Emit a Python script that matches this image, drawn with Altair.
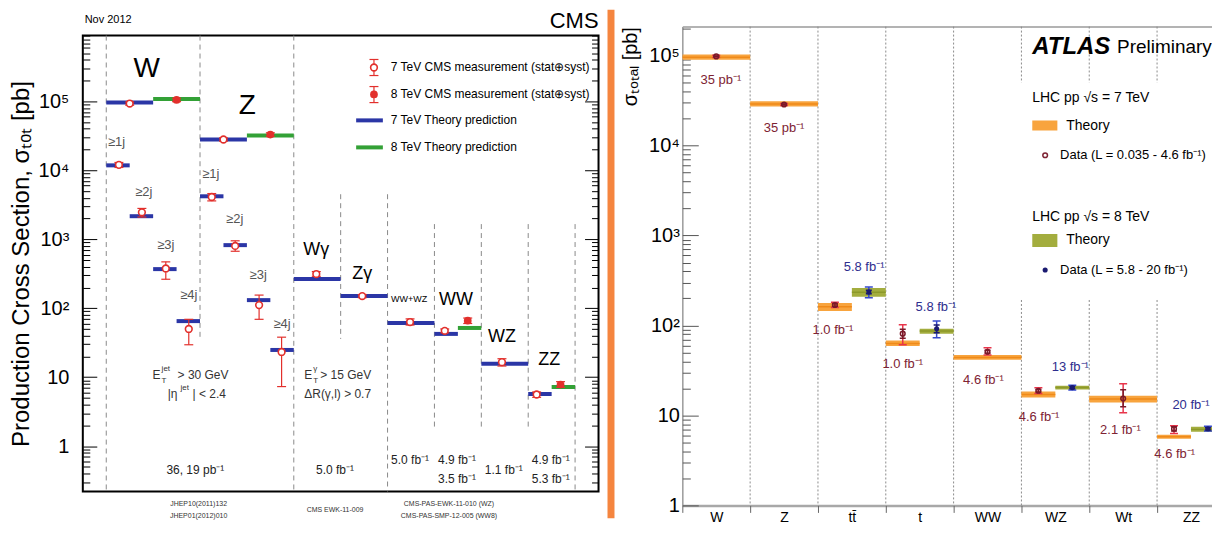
import altair as alt
import pandas as pd

FONT = "Liberation Sans"

# ======================= CMS panel data (left) =======================
cms_th_proc = ["W", "W", "W≥1j", "W≥2j", "W≥3j", "W≥4j", "Z", "Z", "Z≥1j", "Z≥2j", "Z≥3j", "Z≥4j",
               "Wγ", "Zγ", "WW+WZ", "WW", "WW", "WZ", "ZZ", "ZZ"]
cms_th_x0 = [0.5, 1.5, 0.5, 1.0, 1.5, 2.0, 2.5, 3.5, 2.5, 3.0, 3.5, 4.0, 4.5, 5.5, 6.5, 7.5, 8.0, 8.5, 9.5, 10.0]
cms_th_x1 = [1.5, 2.5, 1.0, 1.5, 2.0, 2.5, 3.5, 4.5, 3.0, 3.5, 4.0, 4.5, 5.5, 6.5, 7.5, 8.0, 8.5, 9.5, 10.0, 10.5]
cms_th_val = [9.6e4, 1.08e5, 1.18e4, 2.16e3, 369, 65, 2.8e4, 3.2e4, 4.2e3, 822, 131, 24.8,
              265, 150, 61, 42.4, 51.7, 15.6, 5.7, 7.2]
cms_th_tev = ["7", "8", "7", "7", "7", "7", "7", "8", "7", "7", "7", "7", "7", "7", "7", "7", "8", "7", "7", "8"]

cms_ms_x = [1.0, 2.0, 0.77, 1.26, 1.77, 2.26, 3.0, 4.0, 2.75, 3.25, 3.76, 4.24, 4.98, 5.96, 6.98, 7.72, 8.21, 8.94, 9.68, 10.19]
cms_ms_val = [9.3e4, 1.05e5, 1.2e4, 2.46e3, 377, 50, 2.8e4, 3.3e4, 4.1e3, 800, 111, 23.2, 313, 150, 63, 47, 66, 16.5, 5.6, 7.8]
cms_ms_lo = [8.8e4, 9.9e4, 1.1e4, 2.1e3, 263, 29.5, 2.65e4, 3.1e4, 3.6e3, 670, 69, 7.3, 290, 142, 57, 44, 60, 14.5, 5.1, 7.1]
cms_ms_hi = [9.8e4, 1.11e5, 1.3e4, 2.8e3, 470, 69, 2.95e4, 3.5e4, 4.6e3, 950, 155, 38, 340, 158, 70, 50, 72, 18.5, 6.1, 8.6]
cms_ms_tev = cms_th_tev

cms_sep_x = [0.5, 2.5, 4.5, 5.5, 6.5, 7.5, 8.5, 9.5, 10.5]
cms_sep_top = [9e5, 9e5, 9e5, 4.5e3, 4.5e3, 1.66e3, 1.66e3, 1.66e3, 1.66e3]
cms_sep_bot = [0.22, 35.9, 0.22, 35.9, 0.22, 1.79, 1.79, 1.79, 0.22]

cms_big_text = ["W", "Z"]
cms_big_x = [1.36, 3.51]
cms_big_y = [2.9e5, 8.7e4]

cms_jet_text = ["≥1j", "≥2j", "≥3j", "≥4j", "≥1j", "≥2j", "≥3j", "≥4j"]
cms_jet_x = [0.72, 1.30, 1.77, 2.26, 2.73, 3.24, 3.74, 4.25]
cms_jet_y = [2.55e4, 4.8e3, 822, 155, 8.7e3, 1.95e3, 303, 59]

cms_proc_text = ["Wγ", "Zγ", "WW", "WZ", "ZZ"]
cms_proc_x = [4.98, 5.96, 7.96, 8.94, 9.95]
cms_proc_y = [697, 313, 131, 38, 17.8]

cms_small_text = ["WW+WZ"]
cms_small_x = [6.96]
cms_small_y = [136]

cms_cut_text = ["E", "> 30 GeV", "|η", "| < 2.4", "E", "> 15 GeV", "ΔR(γ,l) > 0.7"]
cms_cut_x = [1.489, 2.021, 1.809, 2.340, 4.723, 5.064, 4.723]
cms_cut_y = [10.8, 10.8, 5.7, 5.7, 10.8, 10.8, 5.7]
cms_script_text = ["jet", "T", "jet", "γ", "T"]
cms_script_x = [1.681, 1.681, 2.085, 4.915, 4.915]
cms_script_y = [13.2, 8.85, 7.0, 13.2, 8.85]

cms_lumi_text = ["36, 19 pb⁻¹", "5.0 fb⁻¹", "5.0 fb⁻¹", "4.9 fb⁻¹", "3.5 fb⁻¹", "1.1 fb⁻¹", "4.9 fb⁻¹", "5.3 fb⁻¹"]
cms_lumi_x = [2.4, 5.38, 6.98, 7.98, 7.98, 8.98, 9.98, 9.98]
cms_lumi_y = [0.456, 0.456, 0.637, 0.637, 0.338, 0.456, 0.637, 0.338]

cms_ref_text = ["JHEP10(2011)132", "JHEP01(2012)010", "CMS EWK-11-009",
                "CMS-PAS-EWK-11-010 (WZ)", "CMS-PAS-SMP-12-005 (WW8)"]
cms_ref_x = [2.47, 2.47, 5.38, 7.81, 7.81]
cms_ref_y = [0.145, 0.098, 0.118, 0.145, 0.098]

cms_leg_text = ["7 TeV CMS measurement (stat⊕syst)", "8 TeV CMS measurement (stat⊕syst)",
                "7 TeV Theory prediction", "8 TeV Theory prediction"]
cms_leg_text_x = [6.57, 6.57, 6.57, 6.57]
cms_leg_y = [3.1e5, 1.26e5, 5.3e4, 2.15e4]
cms_leg_mark_x = [6.21, 6.21]
cms_leg_mark_lo = [2.37e5, 9.6e4]
cms_leg_mark_hi = [4.05e5, 1.64e5]
cms_leg_line_x0 = [5.83, 5.83]
cms_leg_line_x1 = [6.40, 6.40]

# ======================= ATLAS panel data (right) =======================
atl_cat = ["W", "Z", "tt̄", "t", "WW", "WZ", "Wt", "ZZ"]

atl7_th_x0 = [0, 1, 2, 3, 4, 5, 6, 7]
atl7_th_x1 = [1, 2, 2.5, 3.5, 5, 5.5, 7, 7.5]
atl7_th_lo = [9.0e4, 2.72e4, 145, 59, 41.5, 15.8, 13.9, 5.5]
atl7_th_mid = [9.6e4, 2.9e4, 162, 63, 44, 17.1, 15.2, 5.8]
atl7_th_hi = [1.03e5, 3.1e4, 178, 68, 47, 18.4, 16.6, 6.1]

atl8_th_x0 = [2.5, 3.5, 5.5, 7.5]
atl8_th_x1 = [3, 4, 6, 8]
atl8_th_lo = [208, 81, 19.4, 6.6]
atl8_th_mid = [234, 87, 20.4, 7.0]
atl8_th_hi = [261, 92, 21.4, 7.5]

atl7_x = [0.5, 1.5, 2.25, 3.25, 4.5, 5.25, 6.5, 7.25]
atl7_val = [9.8e4, 2.86e4, 169, 81, 51, 18.8, 15.4, 7.1]
atl7_lo = [9.5e4, 2.78e4, 158, 61, 47, 17.5, 10.7, 6.3]
atl7_hi = [1.01e5, 2.94e4, 181, 102, 56.5, 20.3, 22.5, 7.7]
atl7_slo = [9.7e4, 2.83e4, 164, 72, 49, 18.2, 12.5, 6.7]
atl7_shi = [9.9e4, 2.89e4, 174, 91, 53, 19.4, 19.3, 7.5]

atl8_x = [2.75, 3.75, 5.75, 7.75]
atl8_val = [236, 92, 20.4, 7.1]
atl8_lo = [203, 73, 19.2, 6.7]
atl8_hi = [268, 112, 21.6, 7.6]
atl8_slo = [225, 83, 19.8, 6.9]
atl8_shi = [247, 101, 21.0, 7.3]

atl7_lumi = ["35 pb⁻¹", "35 pb⁻¹", "1.0 fb⁻¹", "1.0 fb⁻¹", "4.6 fb⁻¹", "4.6 fb⁻¹", "2.1 fb⁻¹", "4.6 fb⁻¹"]
atl7_lumi_x = [0.57, 1.5, 2.22, 3.25, 4.44, 5.26, 6.46, 7.26]
atl7_lumi_y = [5.4e4, 1.55e4, 89.5, 37.6, 24.9, 9.7, 6.8, 3.68]
atl8_lumi = ["5.8 fb⁻¹", "5.8 fb⁻¹", "13 fb⁻¹", "20 fb⁻¹"]
atl8_lumi_x = [2.68, 3.74, 5.72, 7.5]
atl8_lumi_y = [447, 161, 34.8, 13.2]

atl_sep_x = [1, 2, 3, 4, 5, 6, 7, 5, 6, 7]
atl_sep_top = [2.1e5, 2.1e5, 2.1e5, 2.1e5, 2.1e5, 2.1e5, 2.1e5, 192, 192, 192]
atl_sep_bot = [1, 1, 1, 1, 5.0e4, 5.0e4, 5.0e4, 1, 1, 1]

atl_leg_head = ["LHC pp √s = 7 TeV", "LHC pp √s = 8 TeV"]
atl_leg_head_x = [5.16, 5.16]
atl_leg_head_y = [3.4e4, 1.6e3]
atl_leg_sw_x0 = [5.16, 5.16]
atl_leg_sw_x1 = [5.53, 5.53]
atl_leg_sw_lo = [1.47e4, 745]
atl_leg_sw_hi = [1.9e4, 1.04e3]
atl_leg_theory_x = [5.66, 5.66]
atl_leg_theory_y = [1.67e4, 890]
atl_leg_data_text = ["Data (L = 0.035 - 4.6 fb⁻¹)", "Data (L = 5.8 - 20 fb⁻¹)"]
atl_leg_data_x = [5.57, 5.57]
atl_leg_mark_x = [5.35, 5.35]
atl_leg_mark_y = [7.8e3, 414]

# ======================= styling =======================
CMS_BLUE = "#2b36a6"
CMS_GREEN = "#33a136"
CMS_RED = "#e2302c"
ORANGE_DIV = "#f5853f"
ATL_OR = "#f8a43e"
ATL_OR_D = "#ef8a1a"
ATL_OL = "#a3ad3e"
ATL_OL_D = "#8c992a"
ATL_7_OUT = "#e8354b"
ATL_7_IN = "#7a1a2a"
ATL_8_OUT = "#3548cc"
ATL_8_IN = "#1a1a70"
ATL_7_TXT = "#7e2333"
ATL_8_TXT = "#2e2e8e"

MAJORS = [1, 10, 100, 1000, 10000, 100000]
LABEL_EXPR = ("datum.value == 1 ? '1' : datum.value == 10 ? '10' : "
              "'10' + ['', '', '²', '³', '⁴', '⁵'][round(log(datum.value) / LN10)]")
MAJOR_TEST = "indexof([1, 10, 100, 1000, 10000, 100000], datum.value) >= 0"


def cond_size(big, small):
    return {"condition": {"test": MAJOR_TEST, "value": big}, "value": small}


def log_ticks(lo, hi):
    out = []
    for e in range(-1, 6):
        for m in range(1, 10):
            v = m * 10 ** e
            if lo <= v <= hi:
                out.append(v)
    return out


CAP = "M-1,0L1,0"

# ======================= LEFT (CMS) =======================
LW, LH = 517, 457
L_XDOM = [0, 11]
L_YDOM = [0.22, 9e5]
L_TICKS = log_ticks(*L_YDOM)


def LX(f, axis=None):
    return alt.X(f"{f}:Q", scale=alt.Scale(domain=L_XDOM, nice=False, zero=False), axis=axis)


def LY(f, axis=None):
    return alt.Y(f"{f}:Q", scale=alt.Scale(type="log", domain=L_YDOM, nice=False), axis=axis)


L_AX_LABELS = alt.Axis(orient="left", values=MAJORS, labelExpr=LABEL_EXPR, ticks=False, tickSize=0,
                       domain=False, grid=False, labelFont=FONT, labelFontSize=20, labelColor="black",
                       labelPadding=14, title="Production Cross Section,  σₜₒₜ   [pb]", titleFont=FONT,
                       titleFontSize=24, titleFontWeight="normal", titleColor="black", titlePadding=5)
L_AX_IN_L = alt.Axis(orient="right", offset=-LW, values=L_TICKS, labels=False, domain=False, grid=False,
                     ticks=True, tickSize=cond_size(14, 7), tickColor="black", tickWidth=1, title=None)
L_AX_IN_R = alt.Axis(orient="left", offset=-LW, values=L_TICKS, labels=False, domain=False, grid=False,
                     ticks=True, tickSize=cond_size(14, 7), tickColor="black", tickWidth=1, title=None)

cms_sep_df = pd.DataFrame({"x": cms_sep_x, "top": cms_sep_top, "bot": cms_sep_bot})
cms_th_df = pd.DataFrame({"proc": cms_th_proc, "x0": cms_th_x0, "x1": cms_th_x1, "val": cms_th_val, "tev": cms_th_tev})
cms_ms_df = pd.DataFrame({"x": cms_ms_x, "val": cms_ms_val, "lo": cms_ms_lo, "hi": cms_ms_hi, "tev": cms_ms_tev})
cms_ms7 = cms_ms_df[cms_ms_df.tev == "7"]
cms_ms8 = cms_ms_df[cms_ms_df.tev == "8"]
cms_th7 = cms_th_df[cms_th_df.tev == "7"]
cms_th8 = cms_th_df[cms_th_df.tev == "8"]
cms_leg_mark_df = pd.DataFrame({"x": cms_leg_mark_x, "val": cms_leg_y[:2], "lo": cms_leg_mark_lo,
                                "hi": cms_leg_mark_hi, "tev": ["7", "8"]})
cms_leg_line_df = pd.DataFrame({"x0": cms_leg_line_x0, "x1": cms_leg_line_x1, "val": cms_leg_y[2:], "tev": ["7", "8"]})


def l_text(texts, xs, ys, size, color="black", align="center", weight="normal", style="normal"):
    df = pd.DataFrame({"t": texts, "x": xs, "y": ys})
    return alt.Chart(df).mark_text(align=align, baseline="middle", fontSize=size, color=color, font=FONT,
                                   fontWeight=weight, fontStyle=style).encode(x=LX("x"), y=LY("y"), text="t:N")


def l_meas(df, axis=None):
    err = alt.Chart(df).mark_rule(color=CMS_RED, strokeWidth=1.2).encode(x=LX("x"), y=LY("lo", axis), y2="hi:Q")
    caps = alt.Chart(df).transform_fold(["lo", "hi"], as_=["end", "v"]).mark_point(
        shape=CAP, size=81, stroke=CMS_RED, strokeWidth=1.2, filled=False, opacity=1).encode(x=LX("x"), y=LY("v"))
    return [err, caps]


def l_marks(df7, df8):
    m7 = alt.Chart(df7).mark_point(shape="circle", size=45, filled=True, fill="white", stroke=CMS_RED,
                                   strokeWidth=1.6, opacity=1).encode(x=LX("x"), y=LY("val"))
    m8 = alt.Chart(df8).mark_point(shape="circle", size=60, filled=True, color=CMS_RED, opacity=1).encode(
        x=LX("x"), y=LY("val"))
    return [m7, m8]


left_layers = [
    alt.Chart(cms_sep_df).mark_rule(color="#8a8a8a", strokeWidth=1, strokeDash=[5, 4]).encode(
        x=LX("x"), y=LY("top", L_AX_LABELS), y2="bot:Q"),
    alt.Chart(cms_th7).mark_rule(strokeWidth=4, color=CMS_BLUE).encode(
        x=LX("x0"), x2="x1:Q", y=LY("val", L_AX_IN_L)),
    alt.Chart(cms_th8).mark_rule(strokeWidth=4, color=CMS_GREEN).encode(
        x=LX("x0"), x2="x1:Q", y=LY("val")),
]
left_layers += l_meas(cms_ms_df, L_AX_IN_R)
left_layers += l_marks(cms_ms7, cms_ms8)
# legend
left_layers += [
    alt.Chart(cms_leg_line_df[cms_leg_line_df.tev == "7"]).mark_rule(strokeWidth=4, color=CMS_BLUE).encode(
        x=LX("x0"), x2="x1:Q", y=LY("val")),
    alt.Chart(cms_leg_line_df[cms_leg_line_df.tev == "8"]).mark_rule(strokeWidth=4, color=CMS_GREEN).encode(
        x=LX("x0"), x2="x1:Q", y=LY("val")),
]
left_layers += l_meas(cms_leg_mark_df)
left_layers += l_marks(cms_leg_mark_df[cms_leg_mark_df.tev == "7"], cms_leg_mark_df[cms_leg_mark_df.tev == "8"])
left_layers += [
    l_text(cms_leg_text, cms_leg_text_x, cms_leg_y, 12, align="left"),
    l_text(cms_big_text, cms_big_x, cms_big_y, 28),
    l_text(cms_jet_text, cms_jet_x, cms_jet_y, 13, color="#555555"),
    l_text(cms_proc_text, cms_proc_x, cms_proc_y, 18),
    l_text(cms_small_text, cms_small_x, cms_small_y, 9),
    l_text(cms_cut_text, cms_cut_x, cms_cut_y, 12, color="#333333", align="left"),
    l_text(cms_script_text, cms_script_x, cms_script_y, 8, color="#333333", align="left"),
    l_text(cms_lumi_text, cms_lumi_x, cms_lumi_y, 12, color="#222222"),
    l_text(cms_ref_text, cms_ref_x, cms_ref_y, 7, color="#333333"),
    l_text(["Nov 2012"], [0.04], [1.53e6], 11, align="left"),
    l_text(["CMS"], [11.0], [1.45e6], 22, align="right"),
]

left = alt.layer(*left_layers).resolve_axis(x="independent", y="independent").properties(
    width=LW, height=LH, view=alt.ViewBackground(stroke="black", strokeWidth=2))

# ======================= DIVIDER =======================
divider = alt.Chart(pd.DataFrame({"k": [0]})).mark_rect(color=ORANGE_DIV).encode(
    x=alt.value(0), x2=alt.value(7), y=alt.value(-26), y2=alt.value(484)
).properties(width=66, height=LH)

# ======================= RIGHT (ATLAS) =======================
RW, RH = 531, 471
R_XDOM = [0, 7.81]
R_YDOM = [1, 2.1e5]
R_YRANGE = [RH, -9]
R_TICKS = log_ticks(*R_YDOM)
CAT_EXPR = "[" + ", ".join("'" + c + "'" for c in atl_cat) + "][floor(datum.value)]"


def RX(f, axis=None):
    return alt.X(f"{f}:Q", scale=alt.Scale(domain=R_XDOM, nice=False, zero=False), axis=axis)


def RY(f, axis=None):
    return alt.Y(f"{f}:Q", scale=alt.Scale(type="log", domain=R_YDOM, range=R_YRANGE, nice=False), axis=axis)


R_AX_Y_LABELS = alt.Axis(orient="left", values=MAJORS, labelExpr=LABEL_EXPR, ticks=False, tickSize=0,
                         domain=True, domainColor="#9a9a9a", domainWidth=1.5, grid=False, labelFont=FONT,
                         labelFontSize=20, labelColor="black", labelPadding=3, title="σₜₒₜₐₗ [pb]",
                         titleFont=FONT, titleFontSize=20, titleFontWeight="normal", titleColor="black",
                         titleAnchor="end", titlePadding=8)
R_AX_Y_IN = alt.Axis(orient="right", offset=-RW, values=R_TICKS, labels=False, domain=False, grid=False,
                     ticks=True, tickSize=cond_size(16, 8), tickColor="#555555", tickWidth=1, title=None)
R_AX_X_LABELS = alt.Axis(orient="bottom", values=[i + 0.5 for i in range(len(atl_cat))], labelExpr=CAT_EXPR,
                         ticks=False, tickSize=0, domain=True, domainColor="#a8a8a8", domainWidth=2.5, grid=False,
                         labelFont=FONT, labelFontSize=14, labelColor="black", labelPadding=5, title=None)
R_AX_X_TICKS = alt.Axis(orient="bottom", values=list(range(len(atl_cat))), labels=False, domain=False, grid=False,
                        ticks=True, tickSize=7, tickColor="#666666", title=None)
R_AX_X_TOP = alt.Axis(orient="top", offset=9, labels=False, ticks=False, tickSize=0, domain=True,
                      domainColor="#9a9a9a", domainWidth=1.5, grid=False, title=None)

atl_sep_df = pd.DataFrame({"x": atl_sep_x, "top": atl_sep_top, "bot": atl_sep_bot})
atl7_th_df = pd.DataFrame({"x0": atl7_th_x0, "x1": atl7_th_x1, "lo": atl7_th_lo, "mid": atl7_th_mid, "hi": atl7_th_hi})
atl8_th_df = pd.DataFrame({"x0": atl8_th_x0, "x1": atl8_th_x1, "lo": atl8_th_lo, "mid": atl8_th_mid, "hi": atl8_th_hi})
atl7_df = pd.DataFrame({"x": atl7_x, "val": atl7_val, "lo": atl7_lo, "hi": atl7_hi, "slo": atl7_slo, "shi": atl7_shi})
atl8_df = pd.DataFrame({"x": atl8_x, "val": atl8_val, "lo": atl8_lo, "hi": atl8_hi, "slo": atl8_slo, "shi": atl8_shi})
atl_sw_df = pd.DataFrame({"x0": atl_leg_sw_x0, "x1": atl_leg_sw_x1, "lo": atl_leg_sw_lo, "hi": atl_leg_sw_hi})
atl_legm7 = pd.DataFrame({"x": atl_leg_mark_x[:1], "val": atl_leg_mark_y[:1]})
atl_legm8 = pd.DataFrame({"x": atl_leg_mark_x[1:], "val": atl_leg_mark_y[1:]})


def r_text(texts, xs, ys, size, color="black", align="left", weight="normal", style="normal"):
    df = pd.DataFrame({"t": texts, "x": xs, "y": ys})
    return alt.Chart(df).mark_text(align=align, baseline="middle", fontSize=size, color=color, font=FONT,
                                   fontWeight=weight, fontStyle=style, clip=True).encode(
        x=RX("x"), y=RY("y"), text="t:N")


def r_points(df, out_c, in_c, open_marker):
    layers = [
        alt.Chart(df).mark_rule(color=out_c, strokeWidth=1.5, clip=True).encode(x=RX("x"), y=RY("lo"), y2="hi:Q"),
        alt.Chart(df).transform_fold(["lo", "hi"], as_=["end", "v"]).mark_point(
            shape=CAP, size=64, stroke=out_c, strokeWidth=1.5, filled=False, opacity=1, clip=True).encode(
            x=RX("x"), y=RY("v")),
        alt.Chart(df).mark_rule(color=in_c, strokeWidth=1.5, clip=True).encode(x=RX("x"), y=RY("slo"), y2="shi:Q"),
        alt.Chart(df).transform_fold(["slo", "shi"], as_=["end", "v"]).mark_point(
            shape=CAP, size=36, stroke=in_c, strokeWidth=1.5, filled=False, opacity=1, clip=True).encode(
            x=RX("x"), y=RY("v")),
    ]
    if open_marker:
        layers.append(alt.Chart(df).mark_point(shape="circle", size=22, filled=False, stroke=in_c, strokeWidth=1.5,
                                               opacity=1, clip=True).encode(x=RX("x"), y=RY("val")))
    else:
        layers.append(alt.Chart(df).mark_point(shape="circle", size=26, filled=True, color=in_c, opacity=1,
                                               clip=True).encode(x=RX("x"), y=RY("val")))
    return layers


right_layers = [
    alt.Chart(atl_sep_df).mark_rule(color="#8c8c8c", strokeWidth=1, strokeDash=[2, 2]).encode(
        x=RX("x", R_AX_X_LABELS), y=RY("top", R_AX_Y_LABELS), y2="bot:Q"),
    alt.Chart(atl7_th_df).mark_rect(color=ATL_OR, opacity=1, clip=True).encode(
        x=RX("x0", R_AX_X_TICKS), x2="x1:Q", y=RY("lo", R_AX_Y_IN), y2="hi:Q"),
    alt.Chart(atl7_th_df).mark_rule(color=ATL_OR_D, strokeWidth=1.5, clip=True).encode(
        x=RX("x0", R_AX_X_TOP), x2="x1:Q", y=RY("mid")),
    alt.Chart(atl8_th_df).mark_rect(color=ATL_OL, opacity=1, clip=True).encode(
        x=RX("x0"), x2="x1:Q", y=RY("lo"), y2="hi:Q"),
    alt.Chart(atl8_th_df).mark_rule(color=ATL_OL_D, strokeWidth=1.5, clip=True).encode(
        x=RX("x0"), x2="x1:Q", y=RY("mid")),
]
right_layers += r_points(atl7_df, ATL_7_OUT, ATL_7_IN, True)
right_layers += r_points(atl8_df, ATL_8_OUT, ATL_8_IN, False)
right_layers += [
    r_text(atl7_lumi, atl7_lumi_x, atl7_lumi_y, 13, color=ATL_7_TXT, align="center"),
    r_text(atl8_lumi, atl8_lumi_x, atl8_lumi_y, 13, color=ATL_8_TXT, align="center"),
    # legend
    r_text(["ATLAS"], [5.16], [1.23e5], 24, weight="bold", style="italic"),
    r_text(["Preliminary"], [6.41], [1.23e5], 19),
    r_text(atl_leg_head, atl_leg_head_x, atl_leg_head_y, 14),
    alt.Chart(atl_sw_df.iloc[:1]).mark_rect(color=ATL_OR, clip=True).encode(
        x=RX("x0"), x2="x1:Q", y=RY("lo"), y2="hi:Q"),
    alt.Chart(atl_sw_df.iloc[1:]).mark_rect(color=ATL_OL, clip=True).encode(
        x=RX("x0"), x2="x1:Q", y=RY("lo"), y2="hi:Q"),
    r_text(["Theory", "Theory"], atl_leg_theory_x, atl_leg_theory_y, 14),
    r_text(atl_leg_data_text, atl_leg_data_x, atl_leg_mark_y, 13),
    alt.Chart(atl_legm7).mark_point(shape="circle", size=22, filled=False, stroke=ATL_7_TXT, strokeWidth=1.5,
                                    opacity=1).encode(x=RX("x"), y=RY("val")),
    alt.Chart(atl_legm8).mark_point(shape="circle", size=26, filled=True, color=ATL_8_IN, opacity=1).encode(
        x=RX("x"), y=RY("val")),
]

right = alt.layer(*right_layers).resolve_axis(x="independent", y="independent").properties(width=RW, height=RH)

chart = alt.hconcat(left, divider, right, spacing=9, bounds="flush").properties(
    padding={"left": 0, "top": 0, "right": 0, "bottom": 0}, background="white"
).configure_view(stroke=None)

chart.save("out.html", embed_options={"renderer": "svg", "actions": False})
